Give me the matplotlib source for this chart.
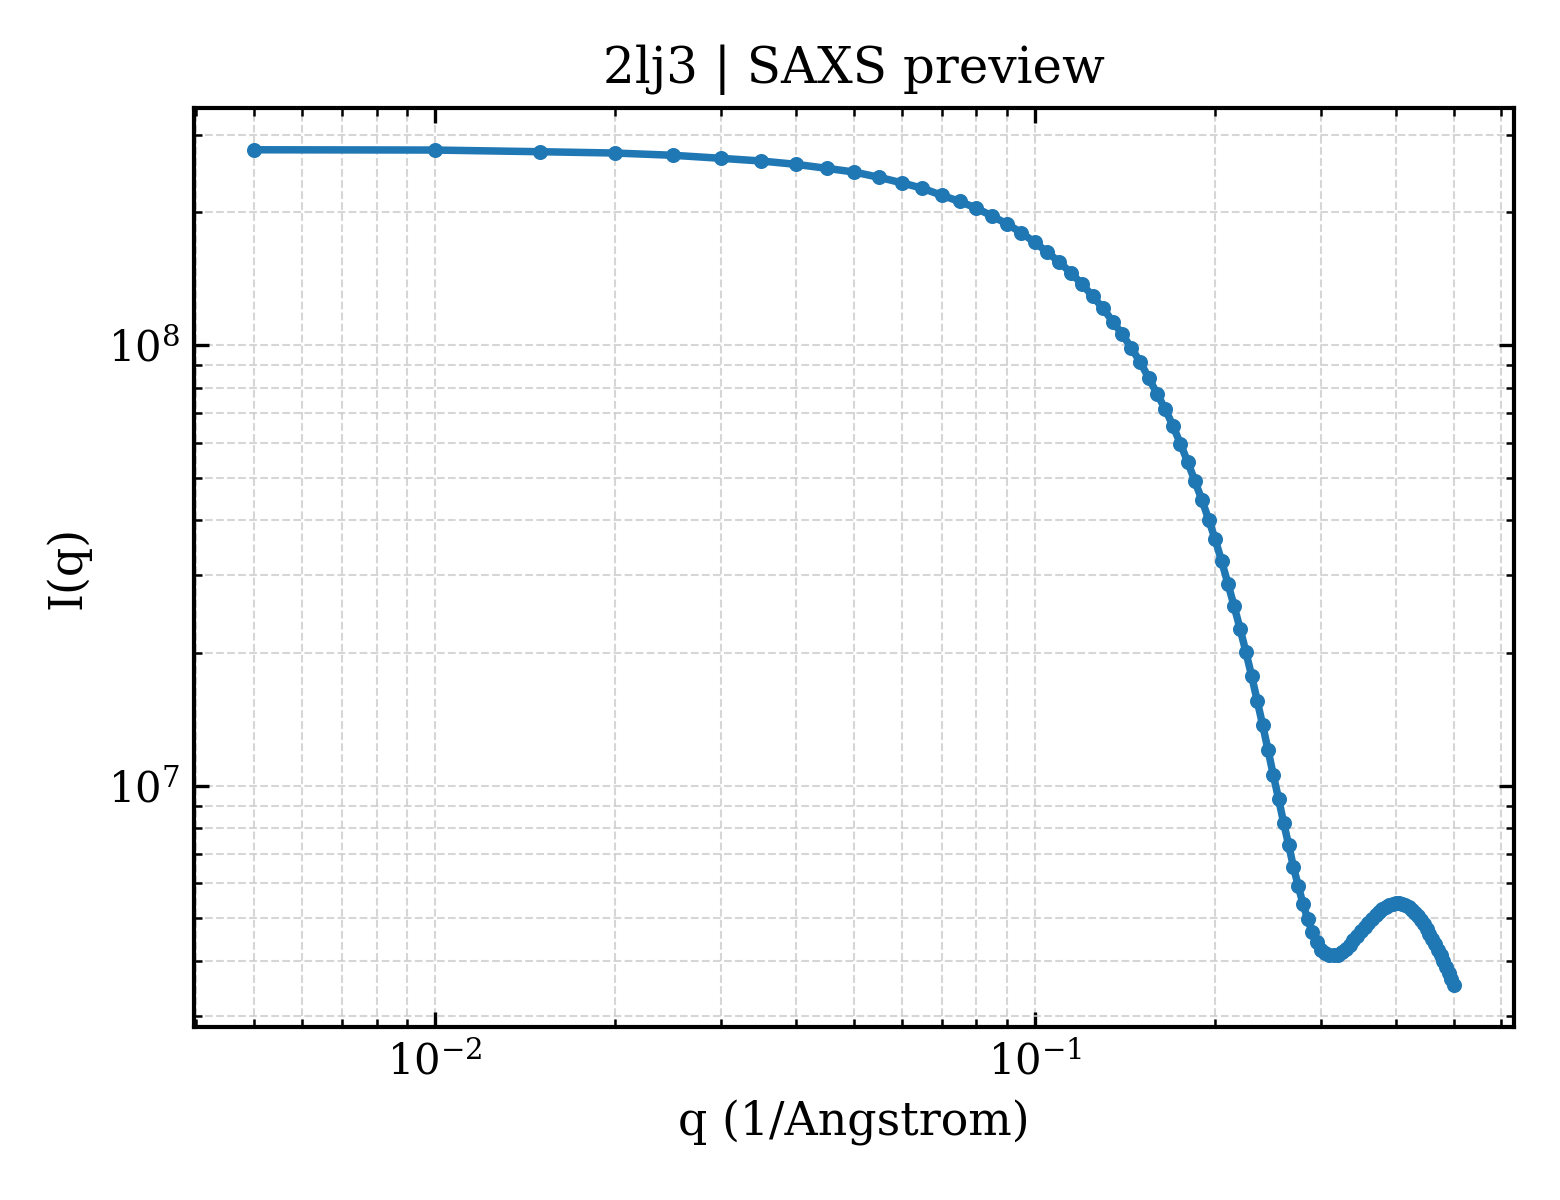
import matplotlib
matplotlib.use("Agg")
import matplotlib.pyplot as plt
import numpy as np

q = [0.005, 0.01, 0.015, 0.02, 0.025, 0.03, 0.035, 0.04, 0.045, 0.05,
     0.055, 0.06, 0.065, 0.07, 0.075, 0.08, 0.085, 0.09, 0.095, 0.1,
     0.105, 0.11, 0.115, 0.12, 0.125, 0.13, 0.135, 0.14, 0.145, 0.15,
     0.155, 0.16, 0.165, 0.17, 0.175, 0.18, 0.185, 0.19, 0.195, 0.2,
     0.205, 0.21, 0.215, 0.22, 0.225, 0.23, 0.235, 0.24, 0.245, 0.25,
     0.255, 0.26, 0.265, 0.27, 0.275, 0.28, 0.285, 0.29, 0.295, 0.3,
     0.305, 0.31, 0.315, 0.32, 0.325, 0.33, 0.335, 0.34, 0.345, 0.35,
     0.355, 0.36, 0.365, 0.37, 0.375, 0.38, 0.385, 0.39, 0.395, 0.4,
     0.405, 0.41, 0.415, 0.42, 0.425, 0.43, 0.435, 0.44, 0.445, 0.45,
     0.455, 0.46, 0.465, 0.47, 0.475, 0.48, 0.485, 0.49, 0.495, 0.5]

intensity = [2.772e8, 2.768e8, 2.744e8, 2.725e8, 2.693e8, 2.651e8, 2.614e8, 2.569e8, 2.516e8, 2.468e8,
             2.401e8, 2.333e8, 2.267e8, 2.185e8, 2.116e8, 2.043e8, 1.959e8, 1.881e8, 1.797e8, 1.710e8,
             1.623e8, 1.540e8, 1.456e8, 1.373e8, 1.289e8, 1.211e8, 1.129e8, 1.057e8, 9.829e7, 9.136e7,
             8.405e7, 7.743e7, 7.159e7, 6.560e7, 5.962e7, 5.420e7, 4.908e7, 4.451e7, 4.016e7, 3.619e7,
             3.226e7, 2.871e7, 2.556e7, 2.270e7, 2.010e7, 1.773e7, 1.556e7, 1.370e7, 1.202e7, 1.055e7,
             9.343e6, 8.245e6, 7.348e6, 6.541e6, 5.924e6, 5.401e6, 4.994e6, 4.660e6, 4.422e6, 4.232e6,
             4.170e6, 4.131e6, 4.121e6, 4.138e6, 4.192e6, 4.269e6, 4.359e6, 4.463e6, 4.569e6, 4.677e6,
             4.788e6, 4.889e6, 4.994e6, 5.085e6, 5.179e6, 5.247e6, 5.315e6, 5.362e6, 5.401e6, 5.420e6,
             5.420e6, 5.401e6, 5.357e6, 5.301e6, 5.233e6, 5.152e6, 5.059e6, 4.954e6, 4.852e6, 4.739e6,
             4.617e6, 4.498e6, 4.371e6, 4.247e6, 4.127e6, 4.000e6, 3.877e6, 3.757e6, 3.641e6, 3.525e6]

title = "2lj3 | SAXS preview"
xlabel = "q (1/Angstrom)"
ylabel = "I(q)"

plt.rcParams['font.family'] = 'DejaVu Serif'
plt.rcParams['mathtext.fontset'] = 'dejavuserif'

fig = plt.figure(figsize=(5.2, 4.0), dpi=300)
ax = fig.add_axes([0.1244, 0.1442, 0.8461, 0.7658])

ax.plot(q, intensity, color='#1f77b4', linewidth=1.8, marker='o', markersize=2.6)
ax.set_xscale('log')
ax.set_yscale('log')

ax.set_title(title, fontsize=12)
ax.set_xlabel(xlabel, fontsize=11)
ax.set_ylabel(ylabel, fontsize=11)

for s in ax.spines.values():
    s.set_linewidth(1.0)

ax.tick_params(which='both', direction='in', top=True, right=True, labelsize=10)
ax.grid(True, which='both', linestyle='--', linewidth=0.5, color='#cccccc', alpha=0.8)

fig.savefig("out.png", dpi=300)
